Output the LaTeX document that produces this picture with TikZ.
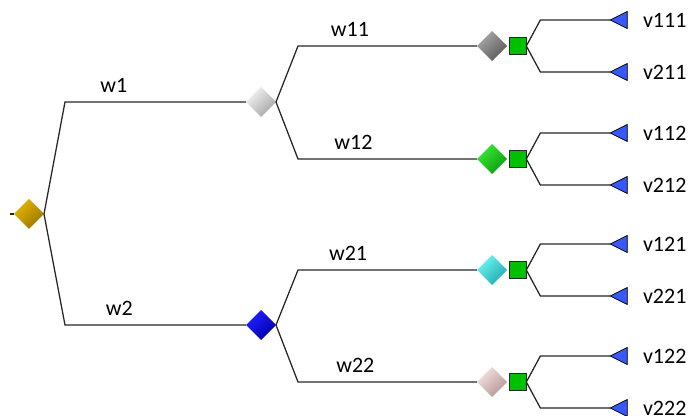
\documentclass[tikz,border=0pt]{standalone}
\usepackage{fontspec}
\setmainfont{Carlito}
\usetikzlibrary{shapes.geometric}

\definecolor{goldA}{HTML}{E2B600}
\definecolor{goldB}{HTML}{9C7400}
\definecolor{greyA}{HTML}{F4F4F4}
\definecolor{greyB}{HTML}{A4A4A4}
\definecolor{blueA}{HTML}{2020FF}
\definecolor{blueB}{HTML}{0000A8}
\definecolor{dgreyA}{HTML}{A8A8A8}
\definecolor{dgreyB}{HTML}{585858}
\definecolor{greenA}{HTML}{38E838}
\definecolor{greenB}{HTML}{0C9C0C}
\definecolor{cyanA}{HTML}{70F4F4}
\definecolor{cyanB}{HTML}{1CACAC}
\definecolor{pinkA}{HTML}{F4E2E2}
\definecolor{pinkB}{HTML}{B49494}
\definecolor{boxgreen}{HTML}{00C000}
\definecolor{leafblue}{HTML}{3558FF}

\begin{document}
\begin{tikzpicture}[x=0.75pt,y=-0.75pt,every node/.style={outer sep=0pt,inner sep=0pt},font=\fontsize{16.5}{20}\selectfont]
\tikzstyle{branch}=[draw=black!85,line width=0.95pt]
\tikzstyle{chance}=[diamond,minimum width=22.5pt,minimum height=22.5pt]
\tikzset{tint/.style 2 args={top color=#1,bottom color=#2,shading angle=45}}
\tikzstyle{decision}=[rectangle,draw=black!85,line width=0.9pt,fill=boxgreen,minimum size=12.5pt]
\tikzstyle{payoff}=[isosceles triangle,isosceles triangle stretches,shape border rotate=180,draw=black,line width=0.6pt,fill=leafblue,minimum width=12.75pt,minimum height=12.75pt]
\tikzstyle{lbl}=[inner sep=1pt]

\useasboundingbox (0,0) rectangle (692,416);

\node (root) [chance,tint={goldA}{goldB}] at (29,214) {};
\coordinate (stub) at (10,214);
\draw [branch] (stub) -- (root.west);

\node (d1) [chance,tint={greyA}{greyB}] at (261,102) {};
\node (d2) [chance,tint={blueA}{blueB}] at (261,325) {};
\draw [branch] (root.east) -- ([xshift=15.75pt]root.east |- d1.west) -- node (w1) [lbl,pos=0.27,above=6pt] {w1} (d1.west);
\draw [branch] (root.east) -- ([xshift=15.75pt]root.east |- d2.west) -- node (w2) [lbl,pos=0.3,above=6pt] {w2} (d2.west);

\node (d11) [chance,tint={dgreyA}{dgreyB}] at (492,46) {};
\node (d12) [chance,tint={greenA}{greenB}] at (492,159) {};
\node (d21) [chance,tint={cyanA}{cyanB}] at (492,270) {};
\node (d22) [chance,tint={pinkA}{pinkB}] at (492,382) {};
\draw [branch] (d1.east) -- ([xshift=16.5pt]d1.east |- d11.west) -- node (w11) [lbl,pos=0.29,above=6pt] {w11} (d11.west);
\draw [branch] (d1.east) -- ([xshift=16.5pt]d1.east |- d12.west) -- node (w12) [lbl,pos=0.31,above=6pt] {w12} (d12.west);
\draw [branch] (d2.east) -- ([xshift=16.5pt]d2.east |- d21.west) -- node (w21) [lbl,pos=0.28,above=6pt] {w21} (d21.west);
\draw [branch] (d2.east) -- ([xshift=16.5pt]d2.east |- d22.west) -- node (w22) [lbl,pos=0.32,above=6pt] {w22} (d22.west);

\node (s11) [decision] at (518,46) {};
\node (s12) [decision] at (518,159) {};
\node (s21) [decision] at (518,270) {};
\node (s22) [decision] at (518,382) {};

\node (t111) [payoff] at (622,20) {};
\node (t211) [payoff] at (622,72) {};
\node (t112) [payoff] at (622,133) {};
\node (t212) [payoff] at (622,185) {};
\node (t121) [payoff] at (622,244) {};
\node (t221) [payoff] at (622,296) {};
\node (t122) [payoff] at (622,356) {};
\node (t222) [payoff] at (622,408) {};

\draw [branch] (s11.east) -- ([xshift=10.5pt]s11.east |- t111.apex) -- (t111.apex);
\draw [branch] (s11.east) -- ([xshift=10.5pt]s11.east |- t211.apex) -- (t211.apex);
\draw [branch] (s12.east) -- ([xshift=10.5pt]s12.east |- t112.apex) -- (t112.apex);
\draw [branch] (s12.east) -- ([xshift=10.5pt]s12.east |- t212.apex) -- (t212.apex);
\draw [branch] (s21.east) -- ([xshift=10.5pt]s21.east |- t121.apex) -- (t121.apex);
\draw [branch] (s21.east) -- ([xshift=10.5pt]s21.east |- t221.apex) -- (t221.apex);
\draw [branch] (s22.east) -- ([xshift=10.5pt]s22.east |- t122.apex) -- (t122.apex);
\draw [branch] (s22.east) -- ([xshift=10.5pt]s22.east |- t222.apex) -- (t222.apex);

\node (v111) [anchor=west] at ([xshift=15.75pt]t111.center) {v111};
\node (v211) [anchor=west] at ([xshift=15.75pt]t211.center) {v211};
\node (v112) [anchor=west] at ([xshift=15.75pt]t112.center) {v112};
\node (v212) [anchor=west] at ([xshift=15.75pt]t212.center) {v212};
\node (v121) [anchor=west] at ([xshift=15.75pt]t121.center) {v121};
\node (v221) [anchor=west] at ([xshift=15.75pt]t221.center) {v221};
\node (v122) [anchor=west] at ([xshift=15.75pt]t122.center) {v122};
\node (v222) [anchor=south west] at ([xshift=15.75pt]t222.center |- 0,415) {v222};
\end{tikzpicture}
\end{document}
